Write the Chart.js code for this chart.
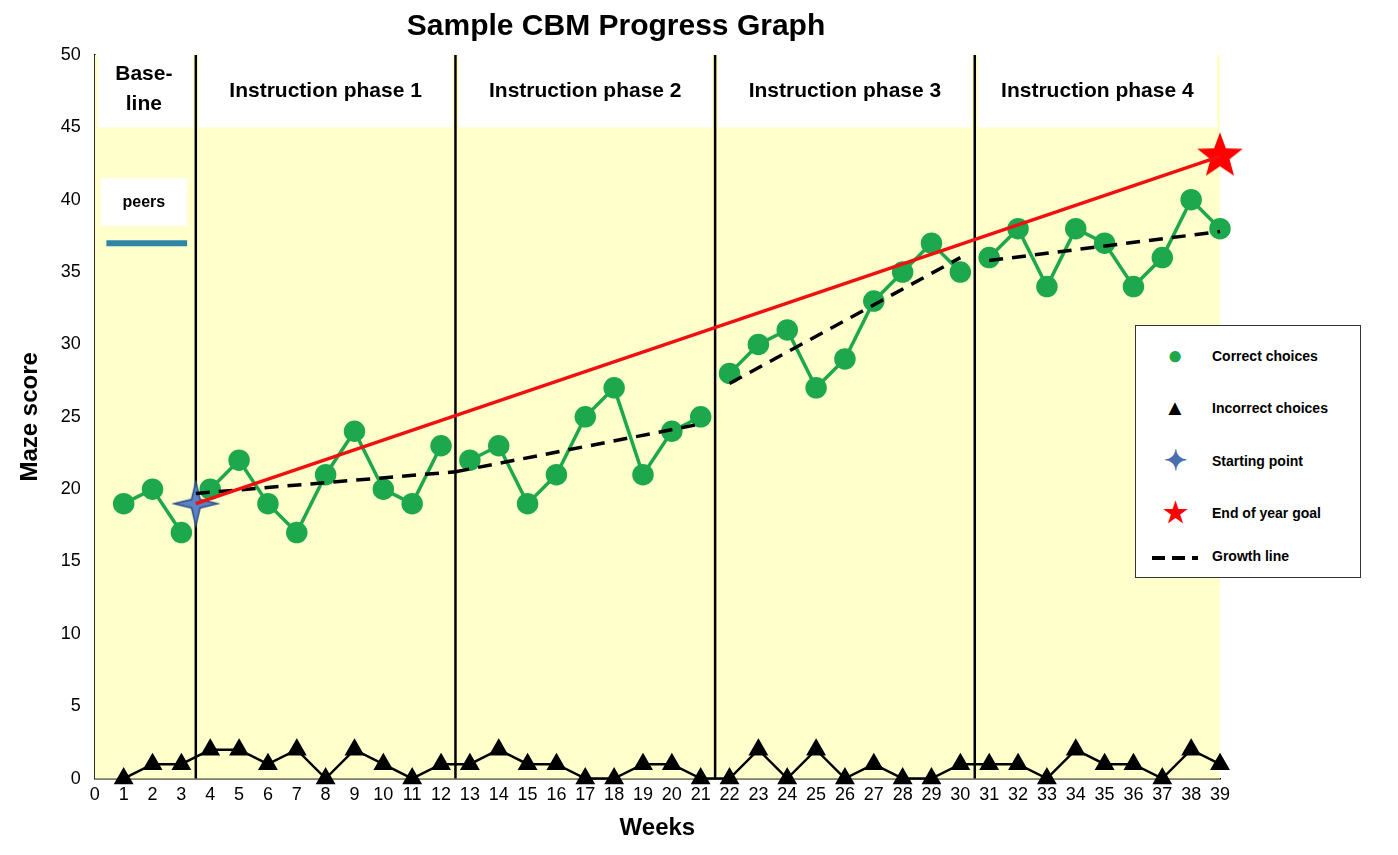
<!DOCTYPE html>
<html><head><meta charset="utf-8">
<script src="https://cdn.jsdelivr.net/npm/chart.js@4/dist/chart.umd.min.js"></script>
<style>
body{margin:0;background:#fff;font-family:"Liberation Sans",Arial,sans-serif}
#wrap{position:relative;width:1398px;height:855px}
#legend{position:absolute;left:1135px;top:325px;width:224px;height:251px;border:1px solid #333;background:#fff;font-size:14px;font-weight:bold}
#legend div{position:absolute;left:14px;display:flex;align-items:center;white-space:nowrap}
#legend span.s{display:inline-block;width:50px;text-align:center;margin-right:12px;white-space:nowrap}
</style></head><body>
<div id="wrap"><canvas id="c" width="1398" height="855"></canvas>
<div id="legend">
<div style="top:14px"><span class="s" style="color:#1ea84e;font-size:26px">●</span>Correct choices</div>
<div style="top:69px"><span class="s" style="font-size:22px">▲</span>Incorrect choices</div>
<div style="top:118px"><span class="s" style="color:#4a6fb0;font-size:28px">✦</span>Starting point</div>
<div style="top:170px"><span class="s" style="color:#f00;font-size:28px">★</span>End of year goal</div>
<div style="top:222px"><span class="s"><svg width="46" height="6"><line x1="0" y1="3" x2="46" y2="3" stroke="#000" stroke-width="4" stroke-dasharray="13,7"/></svg></span>Growth line</div>
</div></div>
<script>
const weeks = Array.from({length: 39}, (_, i) => i + 1);
const correct = [19,20,17, 20,22,19,17,21,24,20,19,23, 22,23,19,21,25,27,21,24,25, 28,30,31,27,29,33,35,37,35, 36,38,34,38,37,34,36,40,38];
const incorrect = [0,1,1,2,2,1,2,0,2,1,0,1,1,2,1,1,0,0,1,1,0,0,2,0,2,0,1,0,0,1,1,1,0,2,1,1,0,2,1];
const phaseBreaks = [3.5, 12.5, 21.5, 30.5];
const phaseLabels = ['Instruction phase 1','Instruction phase 2','Instruction phase 3','Instruction phase 4'];
const goalLine = [{x:3.5,y:19},{x:39,y:43}];
const growthLines = [
  [{x:3.5,y:19.7},{x:12.5,y:21.2}],
  [{x:12.5,y:21.2},{x:21,y:24.5}],
  [{x:22,y:27.3},{x:30,y:36}],
  [{x:31,y:35.8},{x:39,y:37.8}]
];
const peers = [{x:0.4,y:37},{x:3.2,y:37}];

const correctPts = [];
weeks.forEach((w, i) => {
  correctPts.push({x: w, y: correct[i]});
  if (phaseBreaks.includes(w + 0.5)) correctPts.push({x: w + 0.5, y: null});
});

// star point images
function starImage(n, outer, inner, fill, stroke) {
  const c = document.createElement('canvas');
  c.width = c.height = outer * 2 + 4;
  const g = c.getContext('2d');
  g.translate(c.width / 2, c.height / 2);
  g.beginPath();
  for (let i = 0; i < n * 2; i++) {
    const r = i % 2 ? inner : outer, a = -Math.PI / 2 + i * Math.PI / n;
    g.lineTo(r * Math.cos(a), r * Math.sin(a));
  }
  g.closePath();
  g.fillStyle = fill; g.fill();
  if (stroke) { g.strokeStyle = stroke; g.lineWidth = 1.5; g.stroke(); }
  return c;
}
const blueStar = starImage(4, 22, 6, '#5b82c4', '#2f4f8a');
const redStar = starImage(5, 24, 10, '#ff0000');

const bgPlugin = {
  id: 'bg',
  beforeDatasetsDraw(chart) {
    const {ctx, chartArea: a, scales: {x, y}} = chart;
    ctx.save();
    ctx.fillStyle = '#ffffcc';
    ctx.fillRect(a.left, a.top, a.right - a.left, a.bottom - a.top);
    ctx.fillStyle = '#fff';
    const edges = [0, ...phaseBreaks, 39];
    for (let i = 0; i < edges.length - 1; i++) {
      const l = x.getPixelForValue(edges[i]) + 3, r = x.getPixelForValue(edges[i + 1]) - 3;
      ctx.fillRect(l, y.getPixelForValue(50), r - l, y.getPixelForValue(45) - y.getPixelForValue(50));
    }
    ctx.fillRect(x.getPixelForValue(0.2), y.getPixelForValue(41.5), x.getPixelForValue(3.2) - x.getPixelForValue(0.2), y.getPixelForValue(38.2) - y.getPixelForValue(41.5));
    ctx.strokeStyle = '#000'; ctx.lineWidth = 2.5;
    phaseBreaks.forEach(b => {
      const px = x.getPixelForValue(b);
      ctx.beginPath(); ctx.moveTo(px, a.top); ctx.lineTo(px, a.bottom); ctx.stroke();
    });
    ctx.fillStyle = '#000';
    ctx.font = 'bold 21px "Liberation Sans", Arial';
    ctx.textAlign = 'center'; ctx.textBaseline = 'middle';
    const ly = y.getPixelForValue(47.5);
    for (let i = 0; i < 4; i++) {
      ctx.fillText(phaseLabels[i], (x.getPixelForValue(edges[i + 1]) + x.getPixelForValue(edges[i + 2])) / 2, ly);
    }
    const bx = x.getPixelForValue(1.7);
    ctx.fillText('Base-', bx, y.getPixelForValue(48.7));
    ctx.fillText('line', bx, y.getPixelForValue(46.6));
    ctx.font = 'bold 16px "Liberation Sans", Arial';
    ctx.fillText('peers', bx, y.getPixelForValue(39.8));
    ctx.restore();
  }
};

new Chart(document.getElementById('c'), {
  type: 'scatter',
  data: {datasets: [
    {data: peers, showLine: true, borderColor: '#2e86a6', borderWidth: 6, pointRadius: 0},
    {data: goalLine, showLine: true, borderColor: '#f01010', borderWidth: 3.5, pointRadius: 0},
    ...growthLines.map(g => ({data: g, showLine: true, borderColor: '#000', borderWidth: 3.5, borderDash: [14, 9], pointRadius: 0})),
    {data: correctPts, showLine: true, spanGaps: false, borderColor: '#1ea84e', backgroundColor: '#1ea84e', borderWidth: 3.5, pointRadius: 9},
    {data: weeks.map((w, i) => ({x: w, y: incorrect[i]})), showLine: true, borderColor: '#000', backgroundColor: '#000', borderWidth: 2.5, pointStyle: 'triangle', pointRadius: 9, clip: false},
    {data: [{x:3.5,y:19}], pointStyle: blueStar, pointRadius: 20},
    {data: [{x:39,y:43}], pointStyle: redStar, pointRadius: 20, clip: false}
  ]},
  options: {
    responsive: false, animation: false, clip: false,
    layout: {padding: {right: 178, top: 9, left: 12, bottom: 12}},
    plugins: {legend: {display: false}, tooltip: {enabled: false},
      title: {display: true, text: 'Sample CBM Progress Graph', color: '#000', font: {size: 30, weight: 'bold', family: '"Liberation Sans", Arial'}, padding: {top: 0, bottom: 10}}},
    scales: {
      x: {type: 'linear', min: 0, max: 39, grid: {display: false, tickLength: 6, tickColor: '#000'}, border: {color: '#000', width: 1.5},
        ticks: {stepSize: 1, color: '#000', font: {size: 18}, maxRotation: 0, autoSkip: false, padding: 0},
        title: {display: true, text: 'Weeks', color: '#000', font: {size: 24, weight: 'bold'}, padding: {top: 8, bottom: 0}}},
      y: {min: 0, max: 50, grid: {display: false, tickLength: 6, tickColor: '#000'}, border: {color: '#000', width: 1.5},
        ticks: {stepSize: 5, color: '#000', font: {size: 18}, padding: 8},
        title: {display: true, text: 'Maze score', color: '#000', font: {size: 24, weight: 'bold'}, padding: {bottom: 8}}}
    }
  },
  plugins: [bgPlugin]
});
</script></body></html>
